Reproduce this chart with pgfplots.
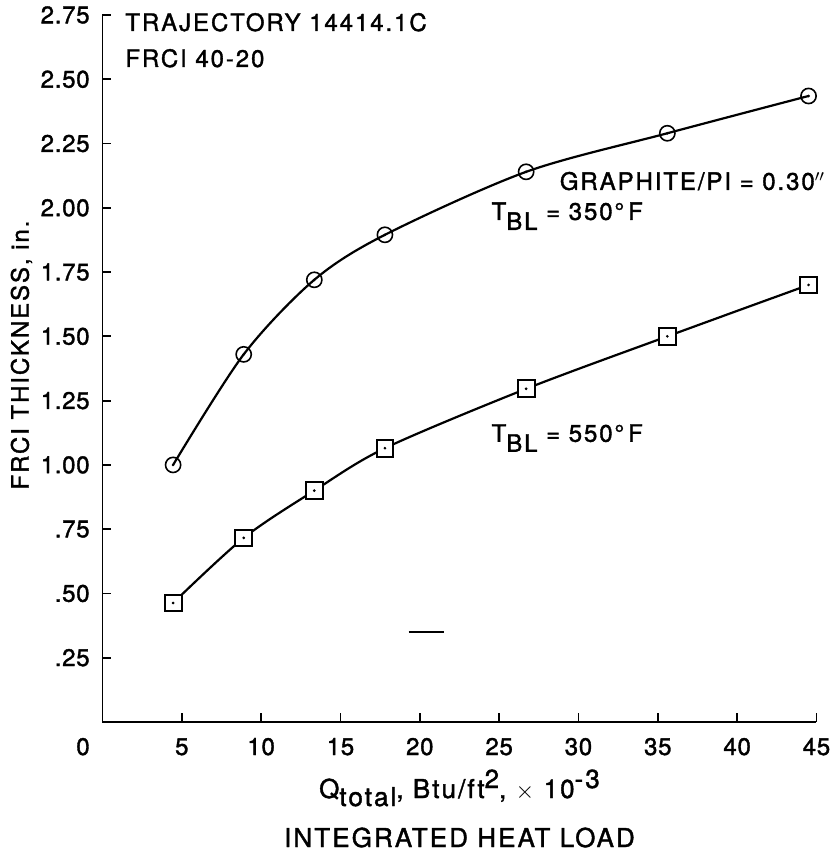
\documentclass[border=0pt]{standalone}
\usepackage{fontspec}
\setmainfont{TeX Gyre Heros}[LetterSpace=8, FakeBold=1.5]
\newfontfamily\tickfont{TeX Gyre Heros}[LetterSpace=3, FakeBold=1.5]
\usepackage{pgfplots}
\pgfplotsset{compat=1.18}
\begin{document}
\fontsize{12}{14}\selectfont
\begin{tikzpicture}
\begin{axis}[
  scale only axis, width=357pt, height=353.5pt,
  xmin=0, xmax=45, ymin=0, ymax=2.75,
  axis x line*=bottom, axis y line*=left,
  axis line style={line width=0.9pt},
  xtick={5,10,15,20,25,30,35,40,45},
  xticklabels={5,10,15,20,25,30,35,40,45},
  ytick={0.25,0.5,0.75,1.0,1.25,1.5,1.75,2.0,2.25,2.5,2.75},
  yticklabels={.25,.50,.75,1.00,1.25,1.50,1.75,2.00,2.25,2.50,2.75},
  tick align=inside, major tick length=4.5pt,
  tick style={line width=0.9pt, black},
  xticklabel style={anchor=base, yshift=-16.5pt, font=\fontsize{12}{14}\tickfont},
  yticklabel style={anchor=east, inner sep=0pt, xshift=-6.25pt, font=\fontsize{12}{14}\tickfont},
  clip=false,
]
\coordinate (SW) at (rel axis cs:0,0);
\coordinate (NE) at (rel axis cs:1,1);
% T_BL = 350 F (circles)
\addplot[smooth, line width=1.1pt, black, mark=o,
  mark options={line width=0.8pt, fill=white, mark size=3.8pt, solid}]
  coordinates {(4.45,1.00) (8.9,1.43) (13.35,1.72) (17.8,1.895) (26.7,2.14) (35.6,2.29) (44.5,2.435)};
\addplot[only marks, mark=*, mark size=0.45pt, black]
  coordinates {(4.45,1.00) (8.9,1.43) (13.35,1.72) (17.8,1.895) (26.7,2.14) (35.6,2.29) (44.5,2.435)};
% T_BL = 550 F (squares)
\addplot[smooth, line width=1.1pt, black, mark=square*,
  mark options={line width=1pt, fill=white, mark size=4.2pt, solid}]
  coordinates {(4.45,0.463) (8.9,0.716) (13.35,0.90) (17.8,1.065) (26.7,1.296) (35.6,1.50) (44.5,1.70)};
\addplot[only marks, mark=*, mark size=0.45pt, black]
  coordinates {(4.45,0.463) (8.9,0.716) (13.35,0.90) (17.8,1.065) (26.7,1.296) (35.6,1.50) (44.5,1.70)};
% stray dash in the reference
\addplot[line width=0.9pt, black] coordinates {(19.3,0.35) (21.5,0.35)};

\node[anchor=base west, inner sep=0pt, xshift=11.25pt, yshift=-8pt] at (rel axis cs:0,1) {TRAJECTORY 14414.1C};
\node[anchor=base west, inner sep=0pt, xshift=11.25pt, yshift=-26pt] at (rel axis cs:0,1) {FRCI 40-20};
\node[anchor=base west, inner sep=0pt] at (axis cs:28.8,2.07) {GRAPHITE/PI = 0.30$''$};
\node[anchor=base west, inner sep=0pt] at (axis cs:24.5,1.953) {T\raisebox{-5pt}{BL} = 350°\,F};
\node[anchor=base west, inner sep=0pt] at (axis cs:24.5,1.09) {T\raisebox{-5pt}{BL} = 550°\,F};
\node[anchor=base, inner sep=0pt, xshift=-9.75pt, yshift=-16.5pt, font=\fontsize{12}{14}\tickfont] at (axis cs:0,0) {0};
\node[anchor=base, inner sep=0pt, yshift=-38pt, font=\fontsize{13}{15}\selectfont] at (rel axis cs:0.5,0)
  {Q\raisebox{-4pt}{total}, Btu/ft\raisebox{5pt}{2}, $\times$ 10\raisebox{5pt}{-3}};
\node[anchor=base, inner sep=0pt, yshift=-62.5pt, font=\fontsize{13}{15}\selectfont] at (rel axis cs:0.5,0) {INTEGRATED HEAT LOAD};
\path (rel axis cs:0,0.519) ++(-40.5pt,0pt) node[rotate=90, anchor=center, inner sep=0pt] {FRCI THICKNESS, in.};
\end{axis}
\pgfresetboundingbox
\path ([shift={(-51.25pt,-65.5pt)}]SW) rectangle ([shift={(9.5pt,7.5pt)}]NE);
\end{tikzpicture}
\end{document}
